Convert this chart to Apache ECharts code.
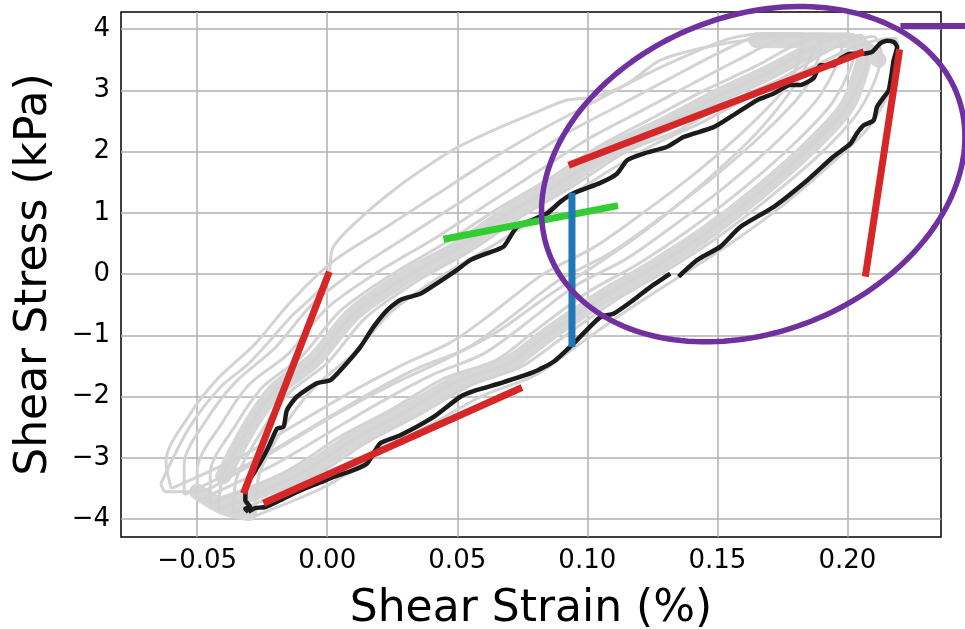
<!DOCTYPE html>
<html><head><meta charset="utf-8">
<script src="https://cdn.jsdelivr.net/npm/echarts@6/dist/echarts.min.js"></script>
<style>html,body{margin:0;padding:0;background:#fff}#c{width:965px;height:629px}</style>
</head><body><div id="c"></div>
<script>
// ---- tick labels / ranges ----
const xTicks = [-0.05, 0, 0.05, 0.10, 0.15, 0.20];
const yTicks = [-4, -3, -2, -1, 0, 1, 2, 3, 4];
const xRange = [-0.0793, 0.236];
const yRange = [-4.29, 4.28];

// ---- highlighted (black) loop, split where the trace has a tiny gap ----
const blackLoopA = [[-0.0303,-3.88],[-0.0277,-3.82],[-0.0238,-3.80],[-0.0181,-3.69],[-0.0104,-3.53],[-0.0027,-3.40],[0.0024,-3.31],[0.0088,-3.22],[0.0153,-3.09],[0.0204,-2.76],[0.0281,-2.63],[0.0409,-2.33],[0.0512,-2.00],[0.0576,-1.89],[0.0665,-1.78],[0.0793,-1.60],[0.0870,-1.43],[0.0947,-1.13],[0.1050,-0.70],[0.1103,-0.64],[0.1178,-0.42],[0.1242,-0.21],[0.1319,0.01]];
const blackLoopB = [[0.1351,-0.04],[0.1422,0.23],[0.1512,0.45],[0.1588,0.77],[0.1717,1.10],[0.1845,1.53],[0.1947,1.92],[0.2012,2.13],[0.2037,2.30],[0.2063,2.43],[0.2101,2.51],[0.2114,2.73],[0.2140,2.89],[0.2159,3.00],[0.2178,3.49],[0.2191,3.71],[0.2178,3.79],[0.2153,3.81],[0.2127,3.77],[0.2095,3.63],[0.2063,3.60],[0.2012,3.60],[0.1973,3.52],[0.1947,3.41],[0.1896,3.41],[0.1870,3.20],[0.1819,3.09],[0.1781,3.09],[0.1717,2.95],[0.1653,2.84],[0.1563,2.60],[0.1486,2.40],[0.1370,2.24],[0.1307,2.08],[0.1217,1.97],[0.1153,1.86],[0.1114,1.64],[0.1050,1.49],[0.0947,1.32],[0.0896,1.18],[0.0845,0.99],[0.0730,0.77],[0.0678,0.45],[0.0614,0.34],[0.0550,0.23],[0.0499,0.07],[0.0422,-0.15],[0.0358,-0.32],[0.0281,-0.42],[0.0230,-0.59],[0.0178,-0.86],[0.0127,-1.19],[0.0063,-1.51],[0.0012,-1.73],[-0.0040,-1.78],[-0.0117,-2.00],[-0.0155,-2.22],[-0.0168,-2.49],[-0.0193,-2.52],[-0.0219,-2.76],[-0.0245,-2.98],[-0.0283,-3.25],[-0.0309,-3.42],[-0.0315,-3.69],[-0.0296,-3.80],[-0.0315,-3.83],[-0.0303,-3.88]];

// ---- other cycles (light gray) ----
const grayLoop1 = [[-0.036,-3.9],[-0.005,-3.3],[0.015,-2.75],[0.035,-2.3],[0.055,-1.82],[0.075,-1.5],[0.09,-1.05],[0.11,-0.45],[0.13,0.05],[0.15,0.6],[0.17,1.25],[0.19,1.98],[0.205,2.7],[0.213,3.6],[0.21,3.88],[0.195,3.7],[0.175,3.2],[0.155,2.82],[0.135,2.35],[0.115,2.0],[0.095,1.45],[0.075,0.95],[0.055,0.38],[0.035,-0.1],[0.015,-0.7],[0.0,-1.45],[-0.015,-1.95],[-0.025,-2.55],[-0.035,-3.35],[-0.036,-3.9]];
const grayLoop2 = [[-0.042,-3.85],[-0.01,-3.25],[0.01,-2.7],[0.03,-2.25],[0.05,-1.75],[0.07,-1.45],[0.085,-0.98],[0.105,-0.4],[0.125,0.1],[0.145,0.65],[0.165,1.3],[0.185,2.05],[0.2,2.75],[0.208,3.65],[0.205,3.9],[0.19,3.78],[0.17,3.3],[0.15,2.9],[0.13,2.45],[0.11,2.05],[0.09,1.5],[0.07,1.0],[0.05,0.42],[0.03,-0.05],[0.01,-0.65],[-0.005,-1.4],[-0.02,-1.9],[-0.03,-2.5],[-0.04,-3.3],[-0.042,-3.85]];
const grayLoop3 = [[-0.045,-3.75],[-0.015,-3.2],[0.005,-2.65],[0.025,-2.2],[0.045,-1.7],[0.065,-1.4],[0.08,-0.92],[0.1,-0.3],[0.12,0.18],[0.14,0.75],[0.16,1.4],[0.18,2.15],[0.195,2.85],[0.203,3.7],[0.198,3.9],[0.183,3.8],[0.165,3.4],[0.145,3.0],[0.125,2.55],[0.105,2.1],[0.085,1.55],[0.065,1.05],[0.045,0.5],[0.025,0.0],[0.005,-0.6],[-0.01,-1.35],[-0.025,-1.85],[-0.035,-2.45],[-0.045,-3.25],[-0.045,-3.75]];
const grayLoop4 = [[-0.05,-3.7],[-0.02,-3.1],[0.0,-2.6],[0.02,-2.1],[0.04,-1.65],[0.06,-1.3],[0.075,-0.85],[0.095,-0.2],[0.115,0.25],[0.135,0.85],[0.155,1.5],[0.175,2.25],[0.19,2.95],[0.198,3.75],[0.19,3.92],[0.175,3.85],[0.158,3.5],[0.14,3.1],[0.12,2.65],[0.1,2.2],[0.08,1.65],[0.06,1.1],[0.04,0.55],[0.02,0.05],[0.0,-0.55],[-0.015,-1.3],[-0.03,-1.8],[-0.04,-2.4],[-0.05,-3.2],[-0.05,-3.7]];
const grayLoop5 = [[-0.055,-3.6],[-0.026,-3.0],[-0.006,-2.5],[0.014,-2.0],[0.034,-1.55],[0.054,-1.2],[0.069,-0.75],[0.089,-0.1],[0.109,0.35],[0.129,0.95],[0.149,1.6],[0.169,2.35],[0.184,3.05],[0.19,3.8],[0.18,3.93],[0.165,3.88],[0.15,3.6],[0.132,3.2],[0.112,2.75],[0.092,2.3],[0.072,1.75],[0.052,1.2],[0.032,0.65],[0.012,0.1],[-0.006,-0.5],[-0.02,-1.2],[-0.035,-1.75],[-0.046,-2.35],[-0.055,-3.1],[-0.055,-3.6]];
const grayLoop6 = [[-0.06,-3.5],[-0.032,-2.95],[-0.012,-2.45],[0.008,-1.95],[0.028,-1.5],[0.048,-1.1],[0.063,-0.65],[0.083,0.0],[0.103,0.45],[0.123,1.05],[0.143,1.7],[0.163,2.45],[0.178,3.15],[0.183,3.85],[0.17,3.93],[0.155,3.85],[0.14,3.6],[0.122,3.25],[0.102,2.8],[0.082,2.35],[0.062,1.85],[0.042,1.3],[0.022,0.75],[0.002,0.2],[-0.014,-0.45],[-0.028,-1.15],[-0.042,-1.7],[-0.053,-2.3],[-0.062,-3.05],[-0.06,-3.5]];
const grayLoop7 = [[-0.064,-3.42],[-0.062,-3.55],[-0.05,-3.55],[-0.035,-3.25],[-0.015,-2.75],[0.005,-2.25],[0.025,-1.8],[0.045,-1.4],[0.065,-0.95],[0.085,-0.35],[0.105,0.2],[0.125,0.8],[0.145,1.5],[0.165,2.3],[0.18,3.1],[0.19,3.9],[0.167,3.85],[0.145,3.7],[0.128,3.49],[0.115,3.1],[0.102,2.89],[0.092,2.84],[0.079,2.62],[0.0665,2.4],[0.05,2.07],[0.038,1.75],[0.027,1.42],[0.015,1.0],[0.0023,0.44],[0.0,-0.1],[-0.014,-0.7],[-0.030,-1.45],[-0.041,-1.84],[-0.053,-2.5],[-0.064,-3.42]];
const grayLoop8 = [[-0.028,-3.95],[0.0,-3.45],[0.02,-2.9],[0.04,-2.45],[0.06,-1.98],[0.08,-1.65],[0.095,-1.2],[0.115,-0.6],[0.135,-0.05],[0.155,0.5],[0.175,1.12],[0.195,1.85],[0.21,2.5],[0.22,3.55],[0.218,3.85],[0.205,3.75],[0.185,3.35],[0.165,2.95],[0.145,2.5],[0.125,2.1],[0.105,1.6],[0.085,1.05],[0.065,0.5],[0.045,0.0],[0.025,-0.6],[0.01,-1.3],[-0.005,-1.85],[-0.016,-2.45],[-0.026,-3.25],[-0.028,-3.95]];
const grayBandLower = [[-0.04,-3.75],[-0.01,-3.25],[0.01,-2.7],[0.03,-2.25],[0.05,-1.77],[0.07,-1.45],[0.085,-0.98],[0.105,-0.4],[0.125,0.1],[0.145,0.65],[0.165,1.3],[0.185,2.05],[0.2,2.75],[0.207,3.6]];
const grayBandUpper = [[0.19,3.75],[0.17,3.3],[0.15,2.9],[0.13,2.45],[0.11,2.05],[0.09,1.5],[0.07,1.0],[0.05,0.42],[0.03,-0.05],[0.01,-0.65],[-0.005,-1.4],[-0.02,-1.9],[-0.03,-2.5],[-0.04,-3.3]];
const grayBandCorner = [[-0.05,-3.55],[-0.04,-3.8],[-0.03,-3.9]];
const grayBandTop = [[0.165,3.82],[0.2,3.82],[0.212,3.5]];

// ---- annotation segments ----
const redSegments = [
  [[0.0008,0.04],[-0.0322,-3.58]],
  [[-0.0245,-3.74],[0.0749,-1.85]],
  [[0.0928,1.78],[0.2063,3.63]],
  [[0.2201,3.67],[0.2069,-0.04]]
];
const greenSegment = [[0.0447,0.57],[0.1118,1.12]];
const blueSegment = [[0.0941,1.33],[0.0941,-1.19]];
const purpleSegment = [[0.2204,4.05],[0.2530,4.05]];
const ellipseCenter = [0.1638, 1.633];

// ---- styles ----
const FONT = 'DejaVu Sans';
const ELL = {a: 219, b: 158, deg: 21.7};

const grayLoops = [grayLoop1,grayLoop2,grayLoop3,grayLoop4,grayLoop5,grayLoop6,grayLoop7,grayLoop8];
const series = [];
[grayBandLower, grayBandUpper, grayBandCorner, grayBandTop].forEach(d => series.push({type:'line', data:d, showSymbol:false, smooth:0.3, lineStyle:{color:'#d6d6d6', width:16, join:'round', cap:'round'}, z:1, silent:true}));
grayLoops.forEach(d => series.push({type:'line', data:d, showSymbol:false, smooth:0.3, lineStyle:{color:'#d3d3d3', width:3}, z:2, silent:true}));
[blackLoopA, blackLoopB].forEach(d => series.push({type:'line', data:d, showSymbol:false, smooth:0.2, lineStyle:{color:'#1c1c1c', width:4.5, join:'round'}, z:3}));
redSegments.forEach(d => series.push({type:'line', data:d, showSymbol:false, lineStyle:{color:'#d62728', width:7}, z:4}));
series.push({type:'line', data:greenSegment, showSymbol:false, lineStyle:{color:'#32cd32', width:7}, z:4});
series.push({type:'line', data:blueSegment, showSymbol:false, lineStyle:{color:'#1f77b4', width:7}, z:4});

const fmtX = v => (v < 0 ? '\u2212' : '') + Math.abs(v).toFixed(2);
const fmtY = v => (v < 0 ? '\u2212' : '') + Math.abs(v);

const option = {
  animation: false,
  backgroundColor: '#fff',
  grid: {left:121, right:24, top:12, bottom:92, containLabel:false, outerBoundsMode:'none', show:true, borderColor:'#000', borderWidth:1.5, backgroundColor:'transparent'},
  xAxis: {
    type:'value', min:xRange[0], max:xRange[1],
    name:'Shear Strain (%)', nameLocation:'middle', nameGap:51,
    nameTextStyle:{fontSize:44, color:'#000', fontFamily:FONT},
    axisLine:{show:false}, axisTick:{show:false, customValues:xTicks},
    axisLabel:{customValues:xTicks, formatter:fmtX, fontSize:26, color:'#000', fontFamily:FONT, margin:11},
    splitLine:{show:true, lineStyle:{color:'#b0b0b0', width:1.5}}
  },
  yAxis: {
    type:'value', min:yRange[0], max:yRange[1],
    name:'Shear Stress (kPa)', nameLocation:'middle', nameGap:64,
    nameTextStyle:{fontSize:44, color:'#000', fontFamily:FONT},
    axisLine:{show:false}, axisTick:{show:false, customValues:yTicks},
    axisLabel:{customValues:yTicks, formatter:fmtY, fontSize:26, color:'#000', fontFamily:FONT, margin:11},
    splitLine:{show:true, lineStyle:{color:'#b0b0b0', width:1.5}}
  },
  series: series
};

const chart = echarts.init(document.getElementById('c'), null, {renderer:'canvas'});
chart.setOption(option);

// purple annotations anchored at data-space positions
const toPx = p => chart.convertToPixel({xAxisIndex:0, yAxisIndex:0}, p);
const c = toPx(ellipseCenter);
const th = ELL.deg * Math.PI / 180;
const pts = [];
for (let k = 0; k < 180; k++) {
  const t = k / 180 * 2 * Math.PI;
  const ex = ELL.a * Math.cos(t), ey = ELL.b * Math.sin(t);
  pts.push([c[0] + ex * Math.cos(th) - ey * Math.sin(th), c[1] - (ex * Math.sin(th) + ey * Math.cos(th))]);
}
const p0 = toPx(purpleSegment[0]), p1 = toPx(purpleSegment[1]);
chart.setOption({graphic:[
  {type:'polygon', shape:{points:pts}, style:{fill:null, stroke:'#7030a0', lineWidth:5.5}, z:100, silent:true},
  {type:'line', shape:{x1:p0[0], y1:p0[1], x2:p1[0], y2:p1[1]}, style:{stroke:'#7030a0', lineWidth:6}, z:100, silent:true}
]});
</script>
</body></html>
